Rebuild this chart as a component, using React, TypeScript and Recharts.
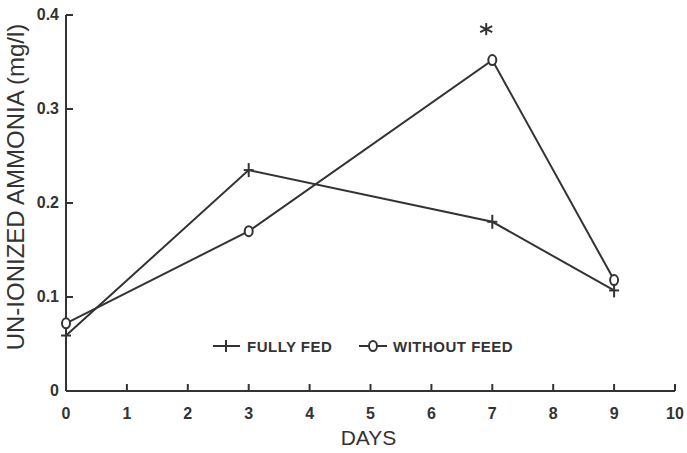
import { LineChart, Line, XAxis, YAxis, ReferenceDot } from "recharts"

const days = [0, 3, 7, 9]
const fullyFed = [0.059, 0.235, 0.18, 0.107]
const withoutFeed = [0.072, 0.17, 0.352, 0.118]
const xTicks = [0, 1, 2, 3, 4, 5, 6, 7, 8, 9, 10]
const yTicks = [0, 0.1, 0.2, 0.3, 0.4]
const star = { day: 6.9, value: 0.385 }

const data = days.map((d, i) => ({ day: d, fed: fullyFed[i], nofeed: withoutFeed[i] }))

const INK = "#333"
const FONT = "'Liberation Sans', Arial, sans-serif"

const PlusDot = (props: any) => {
  const { cx, cy } = props
  if (cx == null || cy == null) return null
  return (
    <g stroke={INK} strokeWidth={2}>
      <line x1={cx - 5} y1={cy} x2={cx + 5} y2={cy} />
      <line x1={cx} y1={cy - 7} x2={cx} y2={cy + 7} />
    </g>
  )
}

const DiamondDot = (props: any) => {
  const { cx, cy } = props
  if (cx == null || cy == null) return null
  return <ellipse cx={cx} cy={cy} rx={4} ry={5} fill="#fff" stroke={INK} strokeWidth={2} />
}

const XTick = (props: any) => {
  const { x, y, payload } = props
  const axisY = y - 17
  return (
    <g>
      <line x1={x} y1={axisY} x2={x} y2={axisY - 7} stroke={INK} strokeWidth={2} />
      <text x={x} y={y + 11} textAnchor="middle" fontSize={16} fontWeight="bold" fill={INK} fontFamily={FONT}>
        {payload.value}
      </text>
    </g>
  )
}

const YTick = (props: any) => {
  const { x, y, payload } = props
  const axisX = x + 7
  return (
    <g>
      <line x1={axisX} y1={y} x2={axisX + 7} y2={y} stroke={INK} strokeWidth={2} />
      <text x={x} y={y + 5} textAnchor="end" fontSize={16} fontWeight="bold" fill={INK} fontFamily={FONT}>
        {payload.value === 0 ? "0" : payload.value.toFixed(1)}
      </text>
    </g>
  )
}

const Star = (props: any) => {
  const { cx, cy } = props
  if (cx == null || cy == null) return null
  return (
    <g stroke={INK} strokeWidth={2}>
      <line x1={cx} y1={cy - 6} x2={cx} y2={cy + 6} />
      <line x1={cx - 6} y1={cy - 3} x2={cx + 6} y2={cy + 3} />
      <line x1={cx - 6} y1={cy + 3} x2={cx + 6} y2={cy - 3} />
    </g>
  )
}

const LegendBox = () => (
  <svg width={330} height={20} style={{ position: "absolute", left: 213, top: 337 }}>
    <g stroke={INK} strokeWidth={2}>
      <line x1={0} y1={9} x2={27} y2={9} />
      <line x1={13} y1={3} x2={13} y2={15} />
      <line x1={146} y1={9} x2={174} y2={9} />
    </g>
    <ellipse cx={160} cy={9} rx={4} ry={5} fill="#fff" stroke={INK} strokeWidth={2} />
    <text x={34} y={15} fontSize={15} fontWeight="bold" letterSpacing={0.5} fill={INK} fontFamily={FONT}>FULLY FED</text>
    <text x={180} y={15} fontSize={15} fontWeight="bold" letterSpacing={0.5} fill={INK} fontFamily={FONT}>WITHOUT FEED</text>
  </svg>
)

export default function App() {
  return (
    <div style={{ position: "absolute", left: 0, top: 0, width: 687, height: 453, background: "#fff" }}>
      <LineChart width={687} height={453} data={data} margin={{ top: 15, right: 12, left: 0, bottom: 0 }}>
        <XAxis
          dataKey="day"
          type="number"
          domain={[0, 10]}
          ticks={xTicks}
          tickSize={0}
          tickMargin={17}
          tick={<XTick />}
          height={62}
          stroke={INK}
          strokeWidth={2}
          label={{
            content: (p: any) => (
              <text x={p.viewBox.x + p.viewBox.width / 2 - 2} y={445} textAnchor="middle" fontSize={21} fill={INK} fontFamily={FONT}>
                DAYS
              </text>
            ),
          }}
        />
        <YAxis
          type="number"
          domain={[0, 0.4]}
          ticks={yTicks}
          tickSize={0}
          tickMargin={7}
          tick={<YTick />}
          width={66}
          stroke={INK}
          strokeWidth={2}
          label={{
            content: () => (
              <text x={24} y={187} transform="rotate(-90 24 187)" textAnchor="middle" fontSize={24} fill={INK} fontFamily={FONT}>
                UN-IONIZED AMMONIA (mg/l)
              </text>
            ),
          }}
        />
        <Line
          dataKey="fed"
          name="FULLY FED"
          stroke={INK}
          strokeWidth={2}
          dot={<PlusDot />}
          activeDot={false}
          isAnimationActive={false}
        />
        <Line
          dataKey="nofeed"
          name="WITHOUT FEED"
          stroke={INK}
          strokeWidth={2}
          dot={<DiamondDot />}
          activeDot={false}
          isAnimationActive={false}
        />
        <ReferenceDot x={star.day} y={star.value} r={0} shape={<Star />} />
      </LineChart>
      <LegendBox />
    </div>
  )
}
